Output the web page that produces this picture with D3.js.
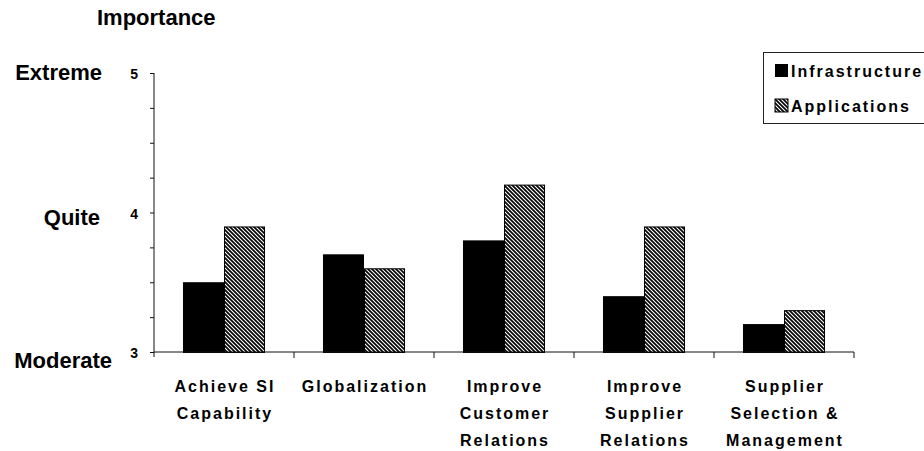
<!DOCTYPE html>
<html>
<head>
<meta charset="utf-8">
<script src="https://cdn.jsdelivr.net/npm/d3@7/dist/d3.min.js"></script>
<style>
  html, body { margin: 0; padding: 0; background: #fff; }
  svg { display: block; }
  text { font-family: "Liberation Sans", Arial, Helvetica, sans-serif; font-weight: bold; fill: #000; }
</style>
</head>
<body>
<script>
// Mean importance ratings per business objective
const categories = [
  ["Achieve SI", "Capability"],
  ["Globalization"],
  ["Improve", "Customer", "Relations"],
  ["Improve", "Supplier", "Relations"],
  ["Supplier", "Selection &", "Management"]
];
const seriesNames = ["Infrastructure", "Applications"];
const infrastructure = [3.5, 3.7, 3.8, 3.4, 3.2];
const applications = [3.9, 3.6, 4.2, 3.9, 3.3];
const yTicks = [3, 3.25, 3.5, 3.75, 4, 4.25, 4.5, 4.75, 5];
const yLevelLabels = [["Extreme", 5], ["Quite", 4], ["Moderate", 3]];

const W = 924, H = 451;
const svg = d3.select("body").append("svg").attr("width", W).attr("height", H);

// Diagonal hatch for the Applications series
const defs = svg.append("defs");
const pat = defs.append("pattern")
  .attr("id", "hatch").attr("patternUnits", "userSpaceOnUse")
  .attr("width", 4).attr("height", 4);
pat.append("rect").attr("width", 4).attr("height", 4).attr("fill", "#fff");
pat.append("path")
  .attr("d", "M-1,-1L5,5M-1,3L1,5M3,-1L5,1")
  .attr("stroke", "#000").attr("stroke-width", 1.7);

const plotLeft = 154, plotRight = 854, plotTop = 73, plotBottom = 352;

const x0 = d3.scaleBand()
  .domain(d3.range(categories.length))
  .range([plotLeft, plotRight])
  .paddingInner(0.414).paddingOuter(0.207);
const x1 = d3.scaleBand().domain([0, 1]).range([0, x0.bandwidth()]);
const y = d3.scaleLinear().domain([3, 5]).range([plotBottom, plotTop]);

const fills = ["#000", "url(#hatch)"];
const series = [infrastructure, applications];

// Bars
const groups = svg.append("g").selectAll("g")
  .data(d3.range(categories.length)).join("g")
  .attr("transform", i => `translate(${x0(i)},0)`);
groups.selectAll("rect")
  .data(i => series.map((s, k) => ({ k, v: s[i] })))
  .join("rect")
  .attr("x", d => x1(d.k) + 0.5)
  .attr("y", d => y(d.v) + 0.5)
  .attr("width", x1.bandwidth() - 1)
  .attr("height", d => y(3) - y(d.v))
  .attr("fill", d => fills[d.k])
  .attr("stroke", "#000").attr("stroke-width", 1);

// Y axis
const yAxis = d3.axisLeft(y)
  .tickValues(yTicks)
  .tickSize(4).tickPadding(12)
  .tickFormat(d => Number.isInteger(d) ? d3.format("d")(d) : "");
const gy = svg.append("g").attr("transform", `translate(${plotLeft},0)`).call(yAxis);
gy.select(".domain").remove();
gy.append("line").attr("x1", 0).attr("x2", 0).attr("y1", plotTop).attr("y2", plotBottom + 5)
  .attr("stroke", "#111");
gy.selectAll(".tick line").attr("stroke", "#111");
gy.selectAll(".tick text")
  .style("font-family", '"Liberation Sans", Arial, sans-serif')
  .style("font-weight", "bold").style("font-size", "14px")
  .attr("fill", "#000").attr("dy", "0.4em");

// X axis: baseline with ticks at category boundaries
const step = x0.step();
const bounds = d3.range(categories.length + 1).map(i => plotLeft + i * step);
const gx = svg.append("g");
gx.append("line").attr("x1", plotLeft).attr("x2", plotRight).attr("y1", plotBottom).attr("y2", plotBottom)
  .attr("stroke", "#111");
gx.selectAll("line.tk").data(bounds.slice(1)).join("line").attr("class", "tk")
  .attr("x1", d => d).attr("x2", d => d)
  .attr("y1", plotBottom).attr("y2", plotBottom + 6).attr("stroke", "#111");

// Category labels
const ls = 2;
const labels = svg.append("g").selectAll("text")
  .data(categories).join("text")
  .attr("text-anchor", "middle")
  .style("font-size", "16px").style("letter-spacing", ls + "px")
  .attr("transform", (d, i) => `translate(${x0(i) + x0.bandwidth() / 2 + ls / 2},392)`);
labels.selectAll("tspan").data(d => d).join("tspan")
  .attr("x", 0).attr("y", (d, j) => j * 27).text(d => d);

// Level words on the left
const levelEnd = { "Extreme": 102, "Quite": 100, "Moderate": 112 };
const levelDy = { "Extreme": 7, "Quite": 12, "Moderate": 16 };
svg.append("g").selectAll("text").data(yLevelLabels).join("text")
  .attr("x", d => levelEnd[d[0]]).attr("y", d => y(d[1]) + levelDy[d[0]])
  .attr("text-anchor", "end").style("font-size", "22px")
  .text(d => d[0]);

// Axis title
svg.append("text").attr("x", 97).attr("y", 25).style("font-size", "22px").text("Importance");

// Legend
const lg = svg.append("g");
lg.append("rect").attr("x", 763.5).attr("y", 52.5).attr("width", 200).attr("height", 71)
  .attr("fill", "#fff").attr("stroke", "#222").attr("stroke-width", 1);
seriesNames.forEach((name, k) => {
  const yy = 64 + k * 35;
  lg.append("rect").attr("x", 775).attr("y", yy).attr("width", 13).attr("height", 13)
    .attr("fill", fills[k]).attr("stroke", k ? "#000" : "none");
  lg.append("text").attr("x", 791).attr("y", yy + 13)
    .style("font-size", "16px").style("letter-spacing", ls + "px").text(name);
});
</script>
</body>
</html>
